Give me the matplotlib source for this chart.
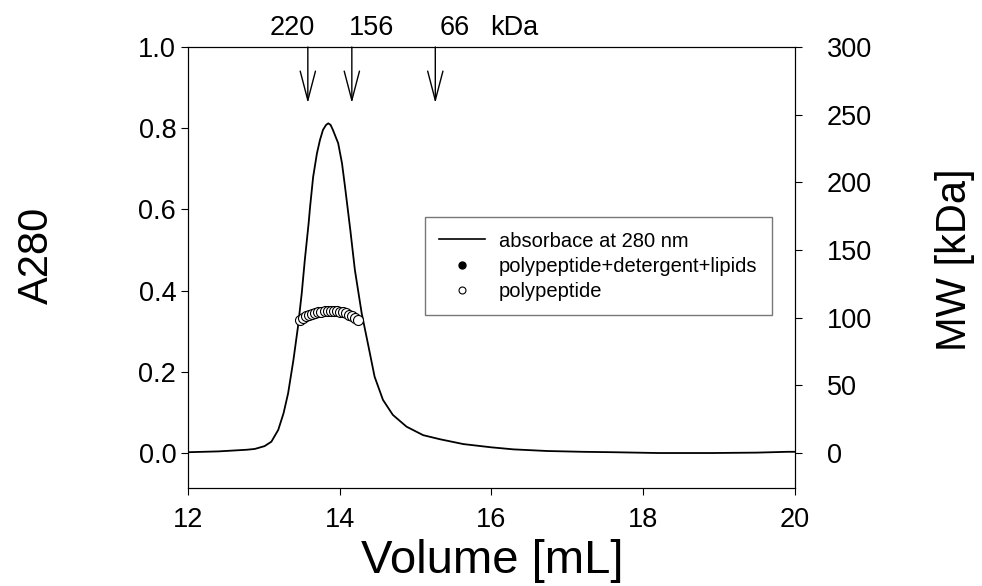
#!/usr/bin/env python3
"""SEC elution profile with MW from light scattering."""

import matplotlib
matplotlib.use("Agg")
import matplotlib.pyplot as plt
from matplotlib.lines import Line2D

plt.rcParams["font.family"] = ["Liberation Sans", "DejaVu Sans"]

# absorbance trace
volume = [12.0, 12.4, 12.77, 12.88, 13.01, 13.10, 13.19, 13.26, 13.32, 13.39,
          13.45, 13.50, 13.54, 13.59, 13.61, 13.65, 13.70, 13.74, 13.78, 13.82,
          13.85, 13.88, 13.91, 13.98, 14.03, 14.07, 14.11, 14.14, 14.20, 14.29,
          14.38, 14.46, 14.57, 14.70, 14.88, 15.10, 15.32, 15.63, 16.0, 16.29,
          16.73, 17.2, 17.6, 18.2, 18.9, 19.5, 19.9, 20.0]
a280 = [0.002, 0.004, 0.008, 0.010, 0.017, 0.028, 0.057, 0.098, 0.147, 0.229,
        0.311, 0.394, 0.475, 0.565, 0.607, 0.680, 0.738, 0.771, 0.796, 0.808,
        0.812, 0.808, 0.796, 0.763, 0.714, 0.656, 0.595, 0.549, 0.451, 0.344,
        0.262, 0.188, 0.131, 0.094, 0.065, 0.044, 0.034, 0.022, 0.014, 0.009,
        0.005, 0.003, 0.002, 0.000, 0.000, 0.001, 0.003, 0.003]

# polypeptide MW across the peak
mw_volume = [13.48, 13.52, 13.56, 13.60, 13.64, 13.68, 13.72, 13.76, 13.80, 13.84,
             13.88, 13.92, 13.96, 14.00, 14.04, 14.08, 14.12, 14.16, 14.20, 14.24]
mw_polypeptide = [98.5, 100.0, 101.0, 102.0, 102.8, 103.4, 104.0, 104.4, 104.8, 105.0,
                  105.1, 105.0, 104.8, 104.4, 104.0, 103.2, 102.3, 101.2, 100.0, 98.5]
mw_complex = []  # legend only, no points shown

# calibration standards
std_volume = [13.58, 14.16, 15.26]
std_labels = ["220", "156", "66"]
std_label_x = [13.07, 14.12, 15.32]
unit_label_x = 15.98

FS_TICK = 19.5
FS_LABEL = 30


def main():
    fig = plt.figure(figsize=(9.82, 5.86), dpi=100)
    ax = fig.add_axes([0.1914, 0.1672, 0.6181, 0.7526])
    ax2 = ax.twinx()

    ax.plot(volume, a280, color="black", lw=1.3)
    ax2.plot(mw_volume, mw_polypeptide, "o", ms=7.2, mfc="white", mec="black", mew=0.8)
    ax2.plot(mw_volume[:len(mw_complex)], mw_complex, "o", ms=7.2, color="black")

    ax.set_xlim(12, 20)
    ax.set_ylim(-0.0862, 1.0)
    ax2.set_ylim(-25.86, 300)
    ax.set_xticks([12, 14, 16, 18, 20])
    ax.set_yticks([0.0, 0.2, 0.4, 0.6, 0.8, 1.0])
    ax.set_yticklabels([f"{v:.1f}" for v in [0.0, 0.2, 0.4, 0.6, 0.8, 1.0]])
    ax2.set_yticks([0, 50, 100, 150, 200, 250, 300])

    for a in (ax, ax2):
        for s in a.spines.values():
            s.set_linewidth(0.8)
    ax.tick_params(axis="y", direction="out", length=5, width=0.8,
                   labelsize=FS_TICK, pad=3.5)
    ax.tick_params(axis="x", direction="out", length=5, width=0.8,
                   labelsize=FS_TICK, pad=9)
    ax2.tick_params(axis="y", direction="out", length=5, width=0.8,
                    labelsize=FS_TICK, pad=18)

    # standards: arrows and labels above the frame
    for v in std_volume:
        ax.annotate("", xy=(v, 0.862), xytext=(v, 1.0),
                    arrowprops=dict(arrowstyle="->,head_length=2.1,head_width=0.55",
                                    color="black", lw=1.0, shrinkA=0, shrinkB=0,
                                    mutation_scale=10))
    for x, lab in zip(std_label_x, std_labels):
        ax.text(x, 1.03, lab, ha="left", va="baseline", fontsize=FS_TICK, clip_on=False)
    ax.text(unit_label_x, 1.03, "kDa", ha="left", va="baseline", fontsize=FS_TICK,
            clip_on=False)

    fig.text(37 / 982, 1 - 255 / 586, "A280", rotation=90, ha="center", va="center",
             fontsize=FS_LABEL)
    fig.text(955 / 982, 1 - 260 / 586, "MW [kDa]", rotation=90, ha="center",
             va="center", fontsize=FS_LABEL)
    fig.text(492 / 982, 1 - 561 / 586, "Volume [mL]", ha="center", va="center",
             fontsize=34)

    handles = [
        Line2D([], [], color="black", lw=1.2),
        Line2D([], [], ls="", marker="o", ms=5, color="black"),
        Line2D([], [], ls="", marker="o", ms=5, mfc="white", mec="black", mew=0.8),
    ]
    labels = ["absorbace at 280 nm", "polypeptide+detergent+lipids", "polypeptide"]
    leg = ax2.legend(handles, labels, loc="upper left", bbox_to_anchor=(0.39, 0.6145),
                     borderaxespad=0, fontsize=14.5, frameon=True, fancybox=False,
                     edgecolor="#555555", handlelength=2.3, handletextpad=0.65,
                     borderpad=0.72, labelspacing=0.3)
    leg.get_frame().set_linewidth(1.0)

    fig.savefig("out.png", dpi=100)


if __name__ == "__main__":
    main()
